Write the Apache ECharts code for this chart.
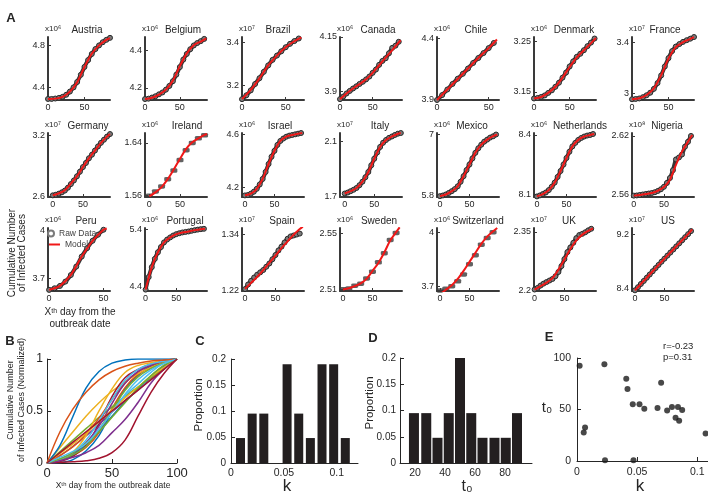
<!DOCTYPE html>
<html>
<head>
<meta charset="utf-8">
<script src="https://cdn.jsdelivr.net/npm/echarts@6/dist/echarts.min.js"></script>
<style>
  html, body { margin: 0; padding: 0; background: #fff; }
  #main { width: 708px; height: 495px; }
</style>
</head>
<body>
<div id="main"></div>
<script>
// ---- panel A data: raw every 5 days (steps every 10 days), model every 10 days + last day ----
var austriaRaw = [4.29, 4.29, 4.294, 4.30, 4.31, 4.33, 4.36, 4.40, 4.452, 4.52, 4.595, 4.66, 4.718, 4.765, 4.80, 4.83, 4.853, 4.872];
var austriaModel = [4.29, 4.293, 4.31, 4.36, 4.45, 4.595, 4.72, 4.80, 4.853, 4.87];
var belgiumRaw = [4.14, 4.142, 4.148, 4.155, 4.165, 4.175, 4.19, 4.21, 4.235, 4.27, 4.31, 4.35, 4.38, 4.405, 4.425, 4.438, 4.448, 4.46];
var belgiumModel = [4.14, 4.147, 4.164, 4.19, 4.238, 4.315, 4.383, 4.426, 4.446, 4.463];
var brazilRaw = [3.134, 3.152, 3.175, 3.205, 3.232, 3.262, 3.292, 3.318, 3.338, 3.358, 3.377, 3.393, 3.406, 3.418];
var brazilModel = [3.134, 3.177, 3.231, 3.292, 3.338, 3.377, 3.405, 3.423];
var canadaRaw = [3.864, 3.876, 3.89, 3.902, 3.913, 3.923, 3.934, 3.944, 3.955, 3.968, 3.985, 4.0, 4.022, 4.04, 4.052, 4.075, 4.1, 4.11, 4.128];
var canadaModel = [3.864, 3.89, 3.913, 3.933, 3.955, 3.985, 4.02, 4.055, 4.09, 4.125, 4.135];
var chileRaw = [3.9, 3.94, 3.985, 4.03, 4.072, 4.112, 4.155, 4.2, 4.24, 4.28, 4.32, 4.362];
var chileModel = [3.9, 3.985, 4.07, 4.155, 4.24, 4.32, 4.39];
var denmarkRaw = [3.137, 3.138, 3.14, 3.143, 3.148, 3.153, 3.16, 3.168, 3.178, 3.188, 3.2, 3.21, 3.219, 3.225, 3.232, 3.24, 3.247, 3.255];
var denmarkModel = [3.137, 3.14, 3.148, 3.16, 3.178, 3.199, 3.218, 3.232, 3.246, 3.256];
var franceRaw = [2.954, 2.956, 2.96, 2.97, 2.985, 3.005, 3.035, 3.08, 3.14, 3.21, 3.275, 3.33, 3.365, 3.385, 3.402, 3.415, 3.427, 3.44];
var franceModel = [2.954, 2.961, 2.987, 3.039, 3.142, 3.271, 3.361, 3.40, 3.426, 3.439];
var germanyRaw = [2.616, 2.622, 2.632, 2.645, 2.662, 2.69, 2.725, 2.76, 2.8, 2.845, 2.89, 2.93, 2.975, 3.01, 3.05, 3.09, 3.125, 3.155, 3.185, 3.21];
var germanyModel = [2.616, 2.635, 2.665, 2.73, 2.80, 2.89, 2.975, 3.05, 3.125, 3.185, 3.21];
var irelandSteps = [1.56, 1.5665, 1.574, 1.585, 1.598, 1.614, 1.629, 1.64, 1.647, 1.6515];
var irelandModel = [1.559, 1.565, 1.573, 1.585, 1.60, 1.616, 1.631, 1.641, 1.647, 1.652, 1.6535];
var israelRaw = [4.137, 4.14, 4.15, 4.165, 4.187, 4.22, 4.262, 4.315, 4.375, 4.43, 4.475, 4.52, 4.55, 4.568, 4.582, 4.59, 4.595, 4.6, 4.605, 4.61];
var israelModel = [4.1375, 4.15, 4.1875, 4.2625, 4.375, 4.475, 4.55, 4.5825, 4.595, 4.605, 4.61];
var italyRaw = [1.725, 1.732, 1.742, 1.752, 1.765, 1.785, 1.81, 1.842, 1.88, 1.928, 1.975, 2.02, 2.06, 2.09, 2.11, 2.125, 2.135, 2.146, 2.155, 2.16];
var italyModel = [1.725, 1.742, 1.765, 1.81, 1.88, 1.975, 2.06, 2.11, 2.135, 2.155, 2.16];
var mexicoRaw = [5.787, 5.8, 5.82, 5.85, 5.885, 5.925, 5.98, 6.07, 6.18, 6.3, 6.41, 6.53, 6.64, 6.73, 6.8, 6.86, 6.9, 6.94, 6.965, 7.0];
var mexicoModel = [5.787, 5.82, 5.885, 5.98, 6.18, 6.41, 6.64, 6.80, 6.90, 6.967, 7.0];
var netherlandsRaw = [8.088, 8.093, 8.1, 8.108, 8.12, 8.137, 8.158, 8.187, 8.217, 8.25, 8.283, 8.315, 8.342, 8.36, 8.375, 8.385, 8.392, 8.397, 8.4, 8.405];
var netherlandsModel = [8.088, 8.1, 8.12, 8.158, 8.217, 8.283, 8.342, 8.375, 8.392, 8.4, 8.405];
var nigeriaRaw = [2.559, 2.5592, 2.5597, 2.5602, 2.5607, 2.5612, 2.5617, 2.5625, 2.5638, 2.5655, 2.568, 2.572, 2.577, 2.585, 2.596, 2.598, 2.601, 2.609, 2.614, 2.62];
var nigeriaModel = [2.559, 2.5597, 2.5607, 2.5617, 2.564, 2.5678, 2.5753, 2.5905, 2.604, 2.614, 2.621];
var peruRaw = [3.627, 3.637, 3.652, 3.679, 3.72, 3.773, 3.836, 3.889, 3.935, 3.973, 4.004];
var peruModel = [3.627, 3.652, 3.721, 3.836, 3.935, 4.004, 4.012];
var portugalRaw = [4.354, 4.571, 4.743, 4.886, 5.0, 5.09, 5.171, 5.22, 5.257, 5.29, 5.314, 5.33, 5.343, 5.352, 5.36, 5.372, 5.383, 5.392, 5.4, 5.406];
var portugalModel = [4.354, 4.743, 5.0, 5.171, 5.257, 5.314, 5.343, 5.36, 5.383, 5.40, 5.406];
var spainRaw = [1.222, 1.232, 1.24, 1.247, 1.253, 1.258, 1.263, 1.27, 1.277, 1.286, 1.295, 1.305, 1.313, 1.322, 1.33, 1.335, 1.337, 1.339, 1.341];
var spainModel = [1.2228, 1.2356, 1.2484, 1.2626, 1.2782, 1.2938, 1.31, 1.3244, 1.3386, 1.3507, 1.356];
var swedenSteps = [2.5103, 2.5108, 2.5128, 2.5142, 2.518, 2.5228, 2.5295, 2.536, 2.5455, 2.5505];
var swedenModel = [2.51, 2.511, 2.5125, 2.5145, 2.5177, 2.5233, 2.529, 2.5365, 2.545, 2.551, 2.5545];
var switzerlandSteps = [3.676, 3.686, 3.70, 3.727, 3.765, 3.822, 3.872, 3.93, 3.968, 4.0];
var switzerlandModel = [3.655, 3.68, 3.705, 3.74, 3.785, 3.835, 3.885, 3.935, 3.975, 4.005, 4.023];
var ukRaw = [2.2018, 2.206, 2.212, 2.217, 2.221, 2.225, 2.229, 2.236, 2.247, 2.262, 2.28, 2.298, 2.31, 2.322, 2.334, 2.342, 2.345, 2.349, 2.354, 2.358];
var ukModel = [2.2018, 2.2106, 2.2194, 2.231, 2.253, 2.279, 2.306, 2.328, 2.343, 2.3527, 2.359];
var usRaw = [8.375, 8.42, 8.468, 8.513, 8.56, 8.607, 8.655, 8.702, 8.748, 8.795, 8.84, 8.885, 8.93, 8.975, 9.02, 9.065, 9.11, 9.155, 9.2, 9.245];
var usModel = [8.375, 8.468, 8.56, 8.655, 8.748, 8.84, 8.93, 9.02, 9.11, 9.2, 9.27];

// ---- panel B: normalized model curves at days 0,10,...,100 ----
var normDays = [0, 10, 20, 30, 40, 50, 60, 70, 80, 90, 100];
var austriaNorm = [0, 0.005, 0.033, 0.116, 0.264, 0.504, 0.711, 0.843, 0.931, 0.975, 1];
var belgiumNorm = [0, 0.021, 0.072, 0.149, 0.293, 0.522, 0.725, 0.853, 0.913, 0.96, 1];
var brazilNorm = [0, 0.15, 0.3, 0.45, 0.58, 0.69, 0.78, 0.86, 0.92, 0.97, 1];
var canadaNorm = [0, 0.07, 0.16, 0.26, 0.37, 0.49, 0.6, 0.7, 0.81, 0.92, 1];
var chileNorm = [0, 0.11, 0.22, 0.33, 0.44, 0.54, 0.64, 0.73, 0.82, 0.91, 1];
var denmarkNorm = [0, 0.024, 0.088, 0.184, 0.328, 0.496, 0.648, 0.76, 0.872, 0.96, 1];
var franceNorm = [0, 0.014, 0.067, 0.171, 0.379, 0.639, 0.82, 0.899, 0.952, 0.985, 1];
var germanyNorm = [0, 0.031, 0.08, 0.187, 0.302, 0.45, 0.589, 0.712, 0.835, 0.933, 1];
var irelandNorm = [0, 0.074, 0.158, 0.274, 0.432, 0.611, 0.768, 0.874, 0.937, 0.979, 1];
var israelNorm = [0, 0.026, 0.105, 0.264, 0.501, 0.712, 0.87, 0.938, 0.964, 0.985, 1];
var italyNorm = [0, 0.039, 0.092, 0.195, 0.355, 0.572, 0.767, 0.881, 0.938, 0.984, 1];
var mexicoNorm = [0, 0.027, 0.08, 0.158, 0.321, 0.509, 0.697, 0.828, 0.909, 0.964, 1];
var netherlandsNorm = [0, 0.038, 0.1, 0.219, 0.404, 0.611, 0.796, 0.9, 0.953, 0.978, 1];
var nigeriaNorm = [0, 0.005, 0.012, 0.022, 0.045, 0.1, 0.22, 0.45, 0.68, 0.86, 1];
var peruNorm = [0, 0.17, 0.45, 0.72, 0.88, 0.96, 0.99, 1, 1, 1, 1];
var portugalNorm = [0, 0.3, 0.52, 0.68, 0.8, 0.88, 0.93, 0.96, 0.98, 0.99, 1];
var spainNorm = [0, 0.092, 0.184, 0.286, 0.398, 0.51, 0.626, 0.73, 0.832, 0.919, 1];
var swedenNorm = [0, 0.022, 0.055, 0.099, 0.169, 0.292, 0.418, 0.582, 0.769, 0.901, 1];
var switzerlandNorm = [0, 0.04, 0.1, 0.19, 0.3, 0.44, 0.58, 0.72, 0.84, 0.94, 1];
var ukNorm = [0, 0.056, 0.111, 0.185, 0.324, 0.489, 0.66, 0.8, 0.895, 0.957, 1];
var usNorm = [0, 0.1, 0.2, 0.3, 0.4, 0.5, 0.6, 0.7, 0.8, 0.9, 1];

// ---- panels C, D, E ----
var kCenters = [0.009, 0.020, 0.031, 0.053, 0.064, 0.075, 0.086, 0.097, 0.108];
var kProportion = [0.048, 0.095, 0.095, 0.19, 0.095, 0.048, 0.19, 0.19, 0.048];
var t0Centers = [19.3, 27.5, 35, 42.5, 50, 57.5, 65, 73, 80.5, 88];
var t0Proportion = [0.095, 0.095, 0.048, 0.095, 0.2, 0.095, 0.048, 0.048, 0.048, 0.095];
var scatterK = [0.0022, 0.0056, 0.0067, 0.0228, 0.0233, 0.041, 0.042, 0.0464, 0.047, 0.052, 0.056, 0.067, 0.070, 0.075, 0.079, 0.082, 0.084, 0.085, 0.0875, 0.107];
var scatterT0 = [92.5, 27.7, 32.6, 94, 0.7, 79.8, 70, 55, 0.7, 55, 50.8, 51.5, 76, 49, 52.4, 42, 52.4, 39, 49.5, 26.7];

// name, exponent, data, last model day, axis ranges, labelled y ticks
var panels = [
    {name: 'Austria', exp: '⁶', raw: austriaRaw, model: austriaModel, norm: austriaNorm, end: 85, x: [0, 85], y: [4.28, 4.88], ticks: [4.4, 4.8]},
    {name: 'Belgium', exp: '⁶', raw: belgiumRaw, model: belgiumModel, norm: belgiumNorm, end: 88, x: [0, 89], y: [4.135, 4.47], ticks: [4.2, 4.4]},
    {name: 'Brazil', exp: '⁷', raw: brazilRaw, model: brazilModel, norm: brazilNorm, end: 68, x: [0, 71], y: [3.13, 3.425], ticks: [3.2, 3.4]},
    {name: 'Canada', exp: '⁶', raw: canadaRaw, model: canadaModel, norm: canadaNorm, end: 93, x: [0, 95], y: [3.86, 4.15], ticks: [3.9, 4.15]},
    {name: 'Chile', exp: '⁶', raw: chileRaw, model: chileModel, norm: chileNorm, end: 58, x: [0, 60], y: [3.9, 4.41], ticks: [3.9, 4.4]},
    {name: 'Denmark', exp: '⁶', raw: denmarkRaw, model: denmarkModel, norm: denmarkNorm, end: 87, x: [0, 87], y: [3.134, 3.258], ticks: [3.15, 3.25]},
    {name: 'France', exp: '⁷', raw: franceRaw, model: franceModel, norm: franceNorm, end: 85, x: [0, 85], y: [2.948, 3.44], ticks: [3, 3.4]},
    {name: 'Germany', exp: '⁷', raw: germanyRaw, model: germanyModel, norm: germanyNorm, end: 95, x: [-8, 95], y: [2.6, 3.22], ticks: [2.6, 3.2]},
    {name: 'Ireland', exp: '⁶', steps: irelandSteps, model: irelandModel, norm: irelandNorm, end: 94, x: [-7, 94], y: [1.558, 1.655], ticks: [1.56, 1.64]},
    {name: 'Israel', exp: '⁶', raw: israelRaw, model: israelModel, norm: israelNorm, end: 97, x: [-5, 100], y: [4.125, 4.61], ticks: [4.2, 4.6]},
    {name: 'Italy', exp: '⁷', raw: italyRaw, model: italyModel, norm: italyNorm, end: 95, x: [-8, 97], y: [1.7, 2.16], ticks: [1.7, 2.1]},
    {name: 'Mexico', exp: '⁶', raw: mexicoRaw, model: mexicoModel, norm: mexicoNorm, end: 97, x: [-5, 100], y: [5.77, 7.03], ticks: [5.8, 7]},
    {name: 'Netherlands', exp: '⁶', raw: netherlandsRaw, model: netherlandsModel, norm: netherlandsNorm, end: 97, x: [-5, 100], y: [8.085, 8.41], ticks: [8.1, 8.4]},
    {name: 'Nigeria', exp: '⁸', raw: nigeriaRaw, model: nigeriaModel, norm: nigeriaNorm, end: 97, x: [-3, 100], y: [2.5576, 2.623], ticks: [2.56, 2.62]},
    {name: 'Peru', exp: '⁶', raw: peruRaw, model: peruModel, norm: peruNorm, end: 53, x: [-1, 56], y: [3.62, 4.015], ticks: [3.7, 4]},
    {name: 'Portugal', exp: '⁶', raw: portugalRaw, model: portugalModel, norm: portugalNorm, end: 97, x: [-1, 100], y: [4.33, 5.42], ticks: [4.4, 5.4]},
    {name: 'Spain', exp: '⁷', raw: spainRaw, model: spainModel, norm: spainNorm, end: 95, x: [-5, 97], y: [1.218, 1.353], ticks: [1.22, 1.34]},
    {name: 'Sweden', exp: '⁶', steps: swedenSteps, model: swedenModel, norm: swedenNorm, end: 96, x: [-5, 100], y: [2.509, 2.554], ticks: [2.51, 2.55]},
    {name: 'Switzerland', exp: '⁶', steps: switzerlandSteps, model: switzerlandModel, norm: switzerlandNorm, end: 97, x: [-5, 100], y: [3.673, 4.023], ticks: [3.7, 4]},
    {name: 'UK', exp: '⁷', raw: ukRaw, model: ukModel, norm: ukNorm, end: 98, x: [-1, 103], y: [2.198, 2.36], ticks: [2.2, 2.35]},
    {name: 'US', exp: '⁷', raw: usRaw, model: usModel, norm: usNorm, end: 97, x: [-5, 100], y: [8.365, 9.29], ticks: [8.4, 9.2]}
];

var matlabColors = ['#0072BD', '#D95319', '#EDB120', '#7E2F8E', '#77AC30', '#4DBEEE', '#A2142F'];
var FONT = '"Liberation Sans", Arial, Helvetica, sans-serif';
var TXT = '#262626';
var colLeft = [48, 145, 242, 340, 437, 534, 632];
var rowTop = [37, 133, 228];
var rowHeight = [63, 64, 63];
var plotW = 62;
// horizontal shift of each small-multiple title from the plot centre
var titleShift = [8, 7, 5, 7, 8, 9, 2, 9, 11, 7, 9, 4, 15, 4, 7, 9, 9, 8, 10, 4, 5];

var chart = echarts.init(document.getElementById('main'));
var grids = [], xAxes = [], yAxes = [], series = [], graphics = [];

function axisStyle(extra, color, width) {
    var base = {
        axisLine: {show: true, onZero: false, lineStyle: {color: color, width: width}},
        axisTick: {show: true, inside: true, length: 3, lineStyle: {color: color}},
        axisLabel: {color: TXT, fontFamily: FONT},
        splitLine: {show: false}
    };
    for (var key in extra) {
        if (base[key] && typeof extra[key] === 'object' && !Array.isArray(extra[key])) {
            for (var k in extra[key]) base[key][k] = extra[key][k];
        } else {
            base[key] = extra[key];
        }
    }
    return base;
}

function addText(x, y, text, size, opts) {
    opts = opts || {};
    graphics.push({
        type: 'text', x: x, y: y, rotation: opts.rotation || 0, silent: true, z: 10,
        style: {
            text: text, fill: opts.color || TXT, fontSize: size, fontFamily: FONT,
            fontWeight: opts.bold ? 'bold' : 'normal',
            align: opts.align || 'center', verticalAlign: 'middle',
            textAlign: opts.align || 'center', textVerticalAlign: 'middle',
            lineHeight: opts.lineHeight || size * 1.15
        }
    });
}

// ---- panel A small multiples ----
panels.forEach(function (p, i) {
    var col = i % 7, row = Math.floor(i / 7);
    grids.push({left: colLeft[col], top: rowTop[row], width: plotW, height: rowHeight[row]});
    xAxes.push(axisStyle({
        gridIndex: i, type: 'value', min: p.x[0], max: p.x[1],
        axisTick: {customValues: [0, 50]},
        axisLabel: {customValues: [0, 50], fontSize: 9, margin: 3}
    }, '#3a3a3a', 2));
    yAxes.push(axisStyle({
        gridIndex: i, type: 'value', min: p.y[0], max: p.y[1],
        axisTick: {customValues: p.ticks},
        axisLabel: {customValues: p.ticks, fontSize: 9, margin: 3, formatter: function (v) { return String(v); }}
    }, '#3a3a3a', 2));

    if (p.steps) {
        series.push({
            type: 'scatter', name: 'Raw Data', xAxisIndex: i, yAxisIndex: i, silent: true,
            data: p.steps.map(function (v, j) { return [j * 10, v]; }),
            symbol: 'roundRect', symbolSize: [7, 4.5],
            itemStyle: {color: '#3b3b3b'}, z: 2
        });
    } else {
        series.push({
            type: 'line', name: 'Raw Data', xAxisIndex: i, yAxisIndex: i, silent: true,
            data: p.raw.map(function (v, j) { return [j * 5, v]; }),
            smooth: 0.3, showSymbol: true, symbol: 'circle', symbolSize: 5,
            itemStyle: {color: '#7a7a7a', borderColor: '#2a2a2a', borderWidth: 1},
            lineStyle: {color: '#383838', width: 4}, z: 2
        });
    }
    series.push({
        type: 'line', name: 'Model', xAxisIndex: i, yAxisIndex: i, silent: true,
        data: p.model.map(function (v, j) { return [j === p.model.length - 1 ? p.end : j * 10, v]; }),
        smooth: 0.3, showSymbol: false,
        lineStyle: {color: '#f01818', width: 2}, itemStyle: {color: '#f01818'}, z: 3
    });

    addText(colLeft[col] + plotW / 2 + titleShift[i], rowTop[row] - 7, p.name, 10);
    addText(colLeft[col] - 3, rowTop[row] - 8, 'x10' + p.exp, 8, {align: 'left'});
});

// ---- panel B ----
var gB = panels.length;
grids.push({left: 47, top: 359, width: 130, height: 104});
xAxes.push(axisStyle({gridIndex: gB, type: 'value', min: 0, max: 100, interval: 50,
    axisTick: {length: 4}, axisLabel: {fontSize: 13, margin: 4}}, TXT, 1));
yAxes.push(axisStyle({gridIndex: gB, type: 'value', min: 0, max: 1, interval: 0.5,
    axisTick: {length: 4}, axisLabel: {fontSize: 12, margin: 4}}, TXT, 1));
panels.forEach(function (p, i) {
    series.push({
        type: 'line', name: p.name + ' normalized', xAxisIndex: gB, yAxisIndex: gB, silent: true,
        data: normDays.map(function (d, j) { return [d, p.norm[j]]; }),
        smooth: 0.4, showSymbol: false,
        lineStyle: {color: matlabColors[i % 7], width: 1.5}, itemStyle: {color: matlabColors[i % 7]}
    });
});

// ---- panel C ----
var gC = gB + 1;
grids.push({left: 231, top: 359, width: 127, height: 104});
xAxes.push(axisStyle({gridIndex: gC, type: 'value', min: 0, max: 0.12,
    axisTick: {customValues: [0, 0.05, 0.1], length: 4},
    axisLabel: {customValues: [0, 0.05, 0.1], fontSize: 10.5, margin: 5}}, TXT, 1));
yAxes.push(axisStyle({gridIndex: gC, type: 'value', min: 0, max: 0.2, interval: 0.05,
    axisTick: {length: 4}, axisLabel: {fontSize: 10, margin: 5}}, TXT, 1));
series.push({
    type: 'bar', name: 'k', xAxisIndex: gC, yAxisIndex: gC, silent: true, barWidth: 9,
    data: kCenters.map(function (c, j) { return [c, kProportion[j]]; }),
    itemStyle: {color: '#231f20'}
});

// ---- panel D ----
var gD = gC + 1;
grids.push({left: 400, top: 358, width: 132, height: 105});
xAxes.push(axisStyle({gridIndex: gD, type: 'value', min: 10, max: 98,
    axisTick: {customValues: [20, 40, 60, 80], length: 4},
    axisLabel: {customValues: [20, 40, 60, 80], fontSize: 10.5, margin: 5}}, TXT, 1));
yAxes.push(axisStyle({gridIndex: gD, type: 'value', min: 0, max: 0.2, interval: 0.05,
    axisTick: {length: 4}, axisLabel: {fontSize: 10, margin: 4}}, TXT, 1));
series.push({
    type: 'bar', name: 't0', xAxisIndex: gD, yAxisIndex: gD, silent: true, barWidth: 10,
    data: t0Centers.map(function (c, j) { return [c, t0Proportion[j]]; }),
    itemStyle: {color: '#231f20'}
});

// ---- panel E ----
var gE = gD + 1;
grids.push({left: 577, top: 358, width: 131, height: 103});
xAxes.push(axisStyle({gridIndex: gE, type: 'value', min: 0, max: 0.109,
    axisTick: {customValues: [0, 0.05, 0.1], length: 4},
    axisLabel: {customValues: [0, 0.05, 0.1], fontSize: 10.5, margin: 6}}, TXT, 1));
yAxes.push(axisStyle({gridIndex: gE, type: 'value', min: 0, max: 100, interval: 50,
    axisTick: {length: 4}, axisLabel: {fontSize: 10.5, margin: 6}}, TXT, 1));
series.push({
    type: 'scatter', name: 'k vs t0', xAxisIndex: gE, yAxisIndex: gE, silent: true,
    data: scatterK.map(function (k, j) { return [k, scatterT0[j]]; }),
    symbolSize: 6, itemStyle: {color: '#1a1a1a'}
});

// ---- free text ----
addText(11, 18, 'A', 13, {bold: true});
addText(10, 341, 'B', 13, {bold: true});
addText(200, 341, 'C', 13, {bold: true});
addText(373, 338, 'D', 13, {bold: true});
addText(549, 337, 'E', 13, {bold: true});
addText(17, 253, 'Cumulative Number\nof Infected Cases', 10, {rotation: Math.PI / 2, lineHeight: 10});
addText(80, 318, 'Xᵗʰ day from the\noutbreak date', 10, {lineHeight: 12});
addText(16, 400, 'Cumulative Number\nof Infected Cases (Normalized)', 9, {rotation: Math.PI / 2, lineHeight: 10.5});
addText(113, 486, 'Xᵗʰ day from the outbreak date', 8.5);
addText(199, 405, 'Proportion', 11.5, {rotation: Math.PI / 2});
addText(287, 486, 'k', 17);
addText(370, 403, 'Proportion', 11.5, {rotation: Math.PI / 2});
addText(467, 487, 't₀', 16);
addText(547, 408, 't₀', 15);
addText(640, 486, 'k', 17);
addText(663, 346, 'r=-0.23', 9.5, {align: 'left'});
addText(663, 357, 'p=0.31', 9.5, {align: 'left'});

chart.setOption({
    animation: false,
    backgroundColor: '#fff',
    textStyle: {fontFamily: FONT},
    legend: [
        {data: [{name: 'Raw Data', icon: 'emptyCircle'}], left: 47, top: 229, padding: 0, z: 10,
            itemWidth: 6, itemHeight: 6, selectedMode: false,
            textStyle: {fontSize: 8.5, color: '#444', fontFamily: FONT}},
        {data: [{name: 'Model', icon: 'rect'}], left: 49, top: 240, padding: 0, z: 10,
            itemWidth: 11, itemHeight: 2, selectedMode: false,
            textStyle: {fontSize: 8.5, color: '#444', fontFamily: FONT}}
    ],
    grid: grids,
    xAxis: xAxes,
    yAxis: yAxes,
    series: series,
    graphic: graphics
});
</script>
</body>
</html>
